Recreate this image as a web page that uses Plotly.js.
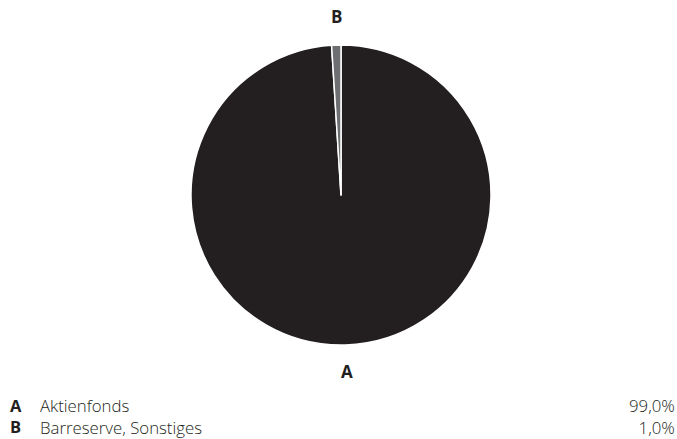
<!DOCTYPE html>
<html>
<head>
<meta charset="utf-8">
<script src="https://cdn.plot.ly/plotly-3.0.1.min.js"></script>
<style>html,body{margin:0;padding:0;background:#fff;}#chart{width:677px;height:439px;}</style>
</head>
<body>
<div id="chart"></div>
<script>
const letters = ["A", "B"];
const names = ["Aktienfonds", "Barreserve, Sonstiges"];
const values = [99.0, 1.0];
const valueLabels = ["99,0%", "1,0%"];
const colors = ["#231f20", "#6d6e71"];

const W = 677, H = 439;
const cx = 341, cy = 195, r = 150;

const trace = {
  type: "pie",
  values: values,
  labels: letters,
  marker: {colors: colors, line: {color: "#ffffff", width: 1.5}},
  sort: false,
  direction: "clockwise",
  rotation: 0,
  textinfo: "none",
  hoverinfo: "label+value",
  domain: {
    x: [(cx - r) / W, (cx + r) / W],
    y: [(H - cy - r) / H, (H - cy + r) / H]
  },
  showlegend: false
};

const font = "Open Sans, Noto Sans, sans-serif";
const txt = "#231f20";
const legY = 1 - 416 / H;
const annotations = [];
// slice labels
annotations.push({x: 336 / W, y: 1 - 17 / H, xref: "paper", yref: "paper", text: "<b>" + letters[1] + "</b>", showarrow: false, font: {family: font, size: 17, color: txt}, xanchor: "center", yanchor: "middle"});
annotations.push({x: 347 / W, y: 1 - 371 / H, xref: "paper", yref: "paper", text: "<b>" + letters[0] + "</b>", showarrow: false, font: {family: font, size: 17, color: txt}, xanchor: "center", yanchor: "middle"});
// legend block (one text per column, rows separated by line breaks)
annotations.push({x: 9 / W, y: legY, xref: "paper", yref: "paper", text: letters.map(l => "<b>" + l + "</b>").join("<br>"), showarrow: false, align: "left", font: {family: font, size: 16.5, color: txt}, xanchor: "left", yanchor: "middle", borderpad: 0});
annotations.push({x: 39 / W, y: legY, xref: "paper", yref: "paper", text: names.join("<br>"), showarrow: false, align: "left", font: {family: font, size: 16.8, weight: 300, color: txt}, xanchor: "left", yanchor: "middle", borderpad: 0});
annotations.push({x: 676 / W, y: legY, xref: "paper", yref: "paper", text: valueLabels.join("<br>"), showarrow: false, align: "right", font: {family: font, size: 16.8, weight: 300, color: txt}, xanchor: "right", yanchor: "middle", borderpad: 0});

const layout = {
  width: W, height: H,
  margin: {l: 0, r: 0, t: 0, b: 0},
  paper_bgcolor: "#ffffff",
  plot_bgcolor: "#ffffff",
  annotations: annotations,
  showlegend: false
};

Plotly.newPlot("chart", [trace], layout, {displayModeBar: false, staticPlot: true});
</script>
</body>
</html>
